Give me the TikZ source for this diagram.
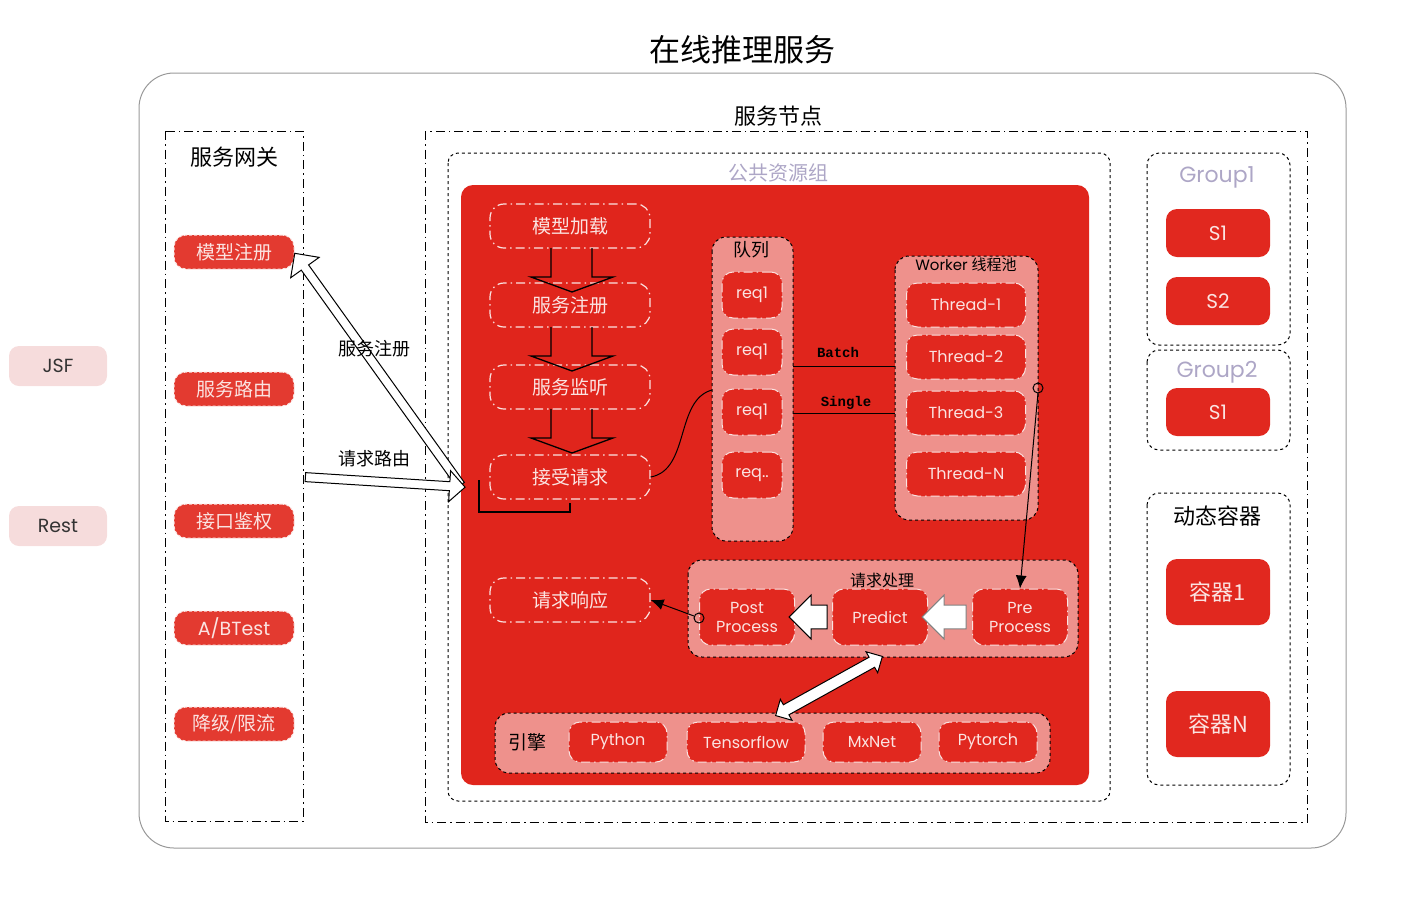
\documentclass[tikz,border=0pt]{standalone}
\usepackage{fontspec}
\setmainfont{Noto Sans CJK SC}
\newfontfamily\lat{Poppins}
\newfontfamily\mono{Liberation Mono}
\usetikzlibrary{shapes.arrows,arrows.meta}
\definecolor{bgred}{HTML}{E0251C}
\definecolor{nred}{HTML}{E1281F}
\definecolor{gred}{HTML}{E33A30}
\definecolor{lpink}{HTML}{EE918C}
\definecolor{tpink}{HTML}{FBE3E1}
\definecolor{ppink}{HTML}{F6DCDC}
\definecolor{pgray}{HTML}{ADA6C6}
\begin{document}
\begin{tikzpicture}[x=1pt,y=-1pt,line width=1pt,
  dd/.style={dash pattern=on 9pt off 4pt on 1.5pt off 4pt},
  flow/.style={draw=tpink,dd,line width=1.2pt,rounded corners=14pt,minimum width=160pt,minimum height=44pt,text=tpink,font=\fontsize{19}{19}\selectfont},
  rn/.style={draw=tpink,dd,fill=nred,line width=1pt,rounded corners=11pt,text=tpink,font=\lat\fontsize{16}{19}\selectfont,align=center},
  gw/.style={fill=gred,draw=tpink,densely dashed,rounded corners=12pt,minimum width=120pt,minimum height=34pt,text=tpink,font=\fontsize{19}{19}\selectfont},
  pk/.style={fill=lpink,draw=black,dashed,rounded corners=14pt},
  sa/.style={single arrow,draw=black,fill=white,inner sep=0pt,anchor=center},
  tip/.style={-{Latex[length=13pt,width=11pt]}},
]
\useasboundingbox (0,0) rectangle (1408,898);
\node (title) at (742,50) {\fontsize{31}{31}\selectfont 在线推理服务};
\draw[gray!80,rounded corners=35pt] (139,73) rectangle (1346,848);
% gateway
\draw[dd] (165,131) rectangle (303,821);
\node (gwl) at (234,157) {\fontsize{22}{22}\selectfont 服务网关};
\node[gw] (g1) at (234,252) {模型注册};
\node[gw] (g2) at (234,389) {服务路由};
\node[gw] (g3) at (234,521) {接口鉴权};
\node[gw,font=\lat\fontsize{19}{19}\selectfont] (g4) at (234,628) {A/BTest};
\node[gw] (g5) at (234,724) {降级/限流};
\node[fill=ppink,rounded corners=10pt,minimum width=98pt,minimum height=40pt,font=\lat\fontsize{19}{19}\selectfont,text=black!80] (jsf) at (58,366) {JSF};
\node[fill=ppink,rounded corners=10pt,minimum width=98pt,minimum height=40pt,font=\lat\fontsize{19}{19}\selectfont,text=black!80] (rest) at (58,526) {Rest};
% service node
\draw[dd] (425,131) rectangle (1307,822);
\node[fill=white,inner sep=1pt] (snl) at (778,116) {\fontsize{22}{22}\selectfont 服务节点};
\draw[dashed,rounded corners=10pt] (448,153) rectangle (1110,801);
\node[text=pgray] (pub) at (778,173) {\fontsize{20}{20}\selectfont 公共资源组};
\fill[bgred,rounded corners=12pt] (461,185) rectangle (1089,785);
% flow
\node[flow] (f1) at (570,226) {模型加载};
\node[flow] (f2) at (570,305) {服务注册};
\node[flow] (f3) at (570,387) {服务监听};
\node[flow] (f4) at (570,477) {接受请求};
\node[flow] (f5) at (570,600) {请求响应};
\foreach \y in {248,327,409}{
  \draw[black,line width=1.3pt] (551,\y) -- (551,\y+29) -- (531,\y+29) -- (572,\y+44) -- (613,\y+29) -- (592,\y+29) -- (592,\y);
}
\draw[black,line width=2.5pt] (479,480) -- (479,512) -- (570,512) -- (570,503);
% queue
\fill[lpink,rounded corners=14pt] (712,237) rectangle (793,541);
\draw[dashed,rounded corners=14pt] (712,237) rectangle (793,541);
\node (ql) at (751,250) {\fontsize{18}{18}\selectfont 队列};
\node[rn,minimum width=60pt,minimum height=46pt] (r1) at (752,295) {req1};
\node[rn,minimum width=60pt,minimum height=46pt] (r2) at (752,352) {req1};
\node[rn,minimum width=60pt,minimum height=46pt] (r3) at (752,412) {req1};
\node[rn,minimum width=60pt,minimum height=46pt] (r4) at (752,475) {req..};
% worker
\fill[lpink,rounded corners=14pt] (895,256) rectangle (1038,520);
\draw[dashed,rounded corners=14pt] (895,256) rectangle (1038,520);
\node (wl) at (966,265) {\lat\fontsize{15}{15}\selectfont Worker \fontspec{Noto Sans CJK SC}线程池};
\node[rn,minimum width=119pt,minimum height=44pt] (t1) at (966,305) {Thread-1};
\node[rn,minimum width=119pt,minimum height=44pt] (t2) at (966,357) {Thread-2};
\node[rn,minimum width=119pt,minimum height=44pt] (t3) at (966,413) {Thread-3};
\node[rn,minimum width=119pt,minimum height=44pt] (tn) at (966,474) {Thread-N};
\coordinate (bq) at (793,366); \coordinate (bw) at (895,366);
\coordinate (sq) at (793,413); \coordinate (sw) at (895,413);
\draw (bq) -- (bw); \draw (sq) -- (sw);
\node (batch) at (838,352) {\mono\bfseries\fontsize{14}{14}\selectfont Batch};
\node (single) at (846,403) {\mono\bfseries\fontsize{14}{14}\selectfont Single};
\coordinate (ql1) at (712,390);
\draw (f4.east) .. controls (690,470) and (675,400) .. (ql1);
% request processing
\draw[pk] (688,560) rectangle (1078,657);
\node (rpl) at (882,580) {\fontsize{16}{16}\selectfont 请求处理};
\node[rn,minimum width=95pt,minimum height=56pt,text width=85pt] (post) at (747,617) {Post\\Process};
\node[rn,minimum width=95pt,minimum height=56pt] (pred) at (880,617) {Predict};
\node[rn,minimum width=95pt,minimum height=56pt,text width=85pt] (pre) at (1020,617) {Pre\\Process};
\node[sa,minimum height=38pt,minimum width=44pt,single arrow head extend=10pt,inner ysep=11pt,shape border rotate=180] (a1) at (814,617) {};
\node[sa,minimum height=44pt,minimum width=44pt,single arrow head extend=10pt,inner ysep=11pt,shape border rotate=180,draw=gray] (a2) at (950,617) {};
\draw (1038,388) circle (5pt);
\coordinate (wc) at (1038,393);
\draw[tip] (wc) -- (pre.north);
\draw (699,618) circle (5pt);
\coordinate (pc) at (694,616);
\draw[tip] (pc) -- (f5.east);
% engine
\draw[pk] (495,713) rectangle (1050,773);
\node (el) at (527,742) {\fontsize{19}{19}\selectfont 引擎};
\node[rn,minimum width=98pt,minimum height=40pt] (py) at (618,742) {Python};
\node[rn,minimum width=118pt,minimum height=40pt] (tf) at (746,742) {Tensorflow};
\node[rn,minimum width=98pt,minimum height=40pt] (mx) at (872,742) {MxNet};
\node[rn,minimum width=98pt,minimum height=40pt] (pt) at (988,742) {Pytorch};
\node[double arrow,draw=black,fill=white,inner sep=0pt,inner ysep=5pt,minimum height=122pt,minimum width=24pt,double arrow head extend=6pt,rotate=-151] (da) at (829,686) {};
% gateway arrows
\node[sa,minimum height=285pt,minimum width=34pt,single arrow head extend=13pt,inner ysep=4pt,rotate=125.6] (ar1) at (379,371) {};
\node (srl) at (374,349) {\fontsize{18}{18}\selectfont 服务注册};
\node[sa,minimum height=160pt,minimum width=30pt,single arrow head extend=11pt,inner ysep=4pt,rotate=-3.6] (ar2) at (383,482) {};
\node (rrl) at (374,459) {\fontsize{18}{18}\selectfont 请求路由};
% groups
\draw[dashed,rounded corners=12pt] (1147,153) rectangle (1290,345);
\node[text=pgray] (g1l) at (1217,177) {\lat\fontsize{22}{22}\selectfont Group1};
\node[rn,minimum width=104pt,minimum height=48pt,font=\lat\fontsize{20}{20}\selectfont,draw=none] (s1) at (1218,233) {S1};
\node[rn,minimum width=104pt,minimum height=48pt,font=\lat\fontsize{20}{20}\selectfont,draw=none] (s2) at (1218,301) {S2};
\draw[dashed,rounded corners=12pt] (1147,350) rectangle (1290,450);
\node[text=pgray] (g2l) at (1217,372) {\lat\fontsize{22}{22}\selectfont Group2};
\node[rn,minimum width=104pt,minimum height=48pt,font=\lat\fontsize{20}{20}\selectfont,draw=none] (s3) at (1218,412) {S1};
\draw[dashed,rounded corners=12pt] (1147,493) rectangle (1290,785);
\node (dyn) at (1217,516) {\fontsize{22}{22}\selectfont 动态容器};
\node[rn,minimum width=104pt,minimum height=66pt,font=\fontsize{22}{22}\selectfont,draw=none] (c1) at (1218,592) {容器1};
\node[rn,minimum width=104pt,minimum height=66pt,font=\fontsize{22}{22}\selectfont,draw=none] (cn) at (1218,724) {容器N};
\end{tikzpicture}
\end{document}
